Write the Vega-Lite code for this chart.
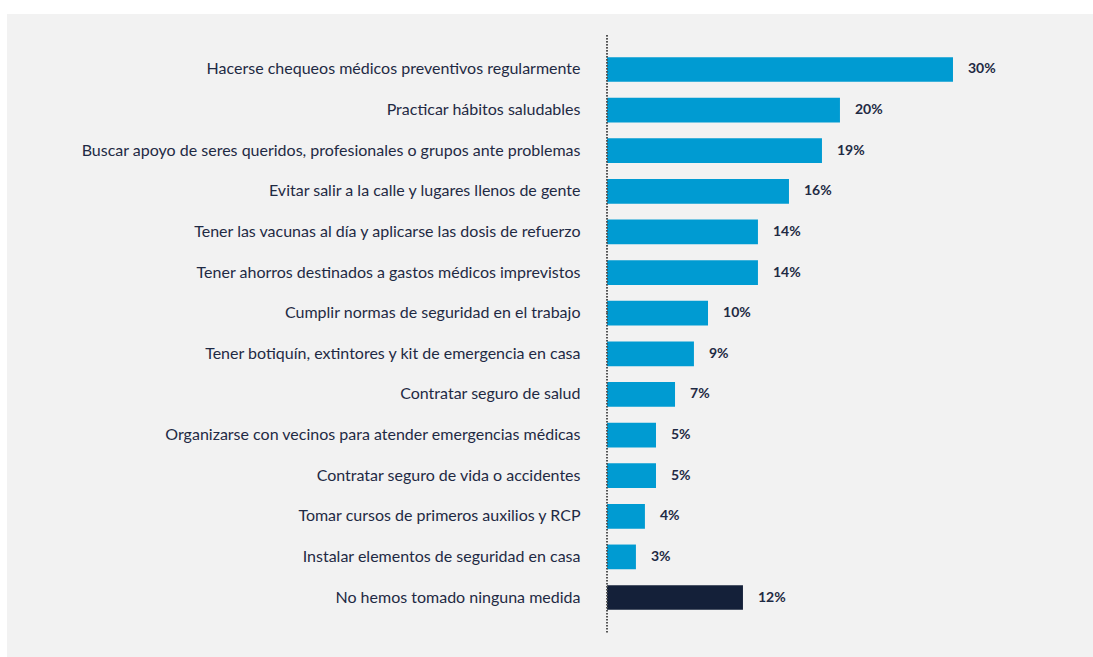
{
  "$schema": "https://vega.github.io/schema/vega-lite/v6.json",
  "width": 1086,
  "height": 643,
  "autosize": {"type": "none"},
  "padding": {"left": 7, "top": 14, "right": 0, "bottom": 0},
  "background": "#ffffff",
  "config": {"view": {"fill": "#f2f2f2", "stroke": null}, "font": "Lato"},
  "data": {
    "values": [
      {"medida": "Hacerse chequeos médicos preventivos regularmente", "valor": 30, "etiqueta": "30%", "grupo": "medida"},
      {"medida": "Practicar hábitos saludables", "valor": 20.2, "etiqueta": "20%", "grupo": "medida"},
      {"medida": "Buscar apoyo de seres queridos, profesionales o grupos ante problemas", "valor": 18.64, "etiqueta": "19%", "grupo": "medida"},
      {"medida": "Evitar salir a la calle y lugares llenos de gente", "valor": 15.78, "etiqueta": "16%", "grupo": "medida"},
      {"medida": "Tener las vacunas al día y aplicarse las dosis de refuerzo", "valor": 13.09, "etiqueta": "14%", "grupo": "medida"},
      {"medida": "Tener ahorros destinados a gastos médicos imprevistos", "valor": 13.09, "etiqueta": "14%", "grupo": "medida"},
      {"medida": "Cumplir normas de seguridad en el trabajo", "valor": 8.76, "etiqueta": "10%", "grupo": "medida"},
      {"medida": "Tener botiquín, extintores y kit de emergencia en casa", "valor": 7.54, "etiqueta": "9%", "grupo": "medida"},
      {"medida": "Contratar seguro de salud", "valor": 5.9, "etiqueta": "7%", "grupo": "medida"},
      {"medida": "Organizarse con vecinos para atender emergencias médicas", "valor": 4.25, "etiqueta": "5%", "grupo": "medida"},
      {"medida": "Contratar seguro de vida o accidentes", "valor": 4.25, "etiqueta": "5%", "grupo": "medida"},
      {"medida": "Tomar cursos de primeros auxilios y RCP", "valor": 3.29, "etiqueta": "4%", "grupo": "medida"},
      {"medida": "Instalar elementos de seguridad en casa", "valor": 2.51, "etiqueta": "3%", "grupo": "medida"},
      {"medida": "No hemos tomado ninguna medida", "valor": 11.79, "etiqueta": "12%", "grupo": "ninguna"}
    ]
  },
  "encoding": {
    "y": {
      "field": "medida",
      "type": "nominal",
      "sort": null,
      "scale": {"range": [21, 618], "paddingInner": 0.3916, "paddingOuter": 0.545, "align": 0.5},
      "axis": {
        "title": null,
        "offset": -600,
        "domain": false,
        "ticks": false,
        "tickSize": 0,
        "labelPadding": 27,
        "labelFontSize": 16,
        "labelColor": "#1f2a44",
        "labelLimit": 0,
        "labelFont": "Lato"
      }
    },
    "x": {
      "field": "valor",
      "type": "quantitative",
      "scale": {"domain": [-52.02, 42.14], "nice": false, "zero": false},
      "axis": null
    }
  },
  "layer": [
    {
      "mark": {"type": "bar"},
      "encoding": {
        "color": {
          "field": "grupo",
          "type": "nominal",
          "scale": {"domain": ["medida", "ninguna"], "range": ["#009bd2", "#142039"]},
          "legend": null
        }
      }
    },
    {
      "mark": {"type": "text", "align": "left", "baseline": "middle", "dx": 15, "fontSize": 14, "fontWeight": "bold", "color": "#1f2a44"},
      "encoding": {"text": {"field": "etiqueta", "type": "nominal"}}
    },
    {
      "mark": {"type": "rule", "strokeDash": [1, 2], "color": "#555555", "strokeWidth": 1},
      "encoding": {
        "x": {"datum": 0},
        "y": {"datum": "Hacerse chequeos médicos preventivos regularmente", "bandPosition": -0.89},
        "y2": {"datum": "Cumplir normas de seguridad en el trabajo"}
      }
    },
    {
      "mark": {"type": "rule", "strokeDash": [1, 2], "color": "#555555", "strokeWidth": 1},
      "encoding": {
        "x": {"datum": 0},
        "y": {"datum": "No hemos tomado ninguna medida", "bandPosition": 1.9},
        "y2": {"datum": "Cumplir normas de seguridad en el trabajo"}
      }
    }
  ]
}
